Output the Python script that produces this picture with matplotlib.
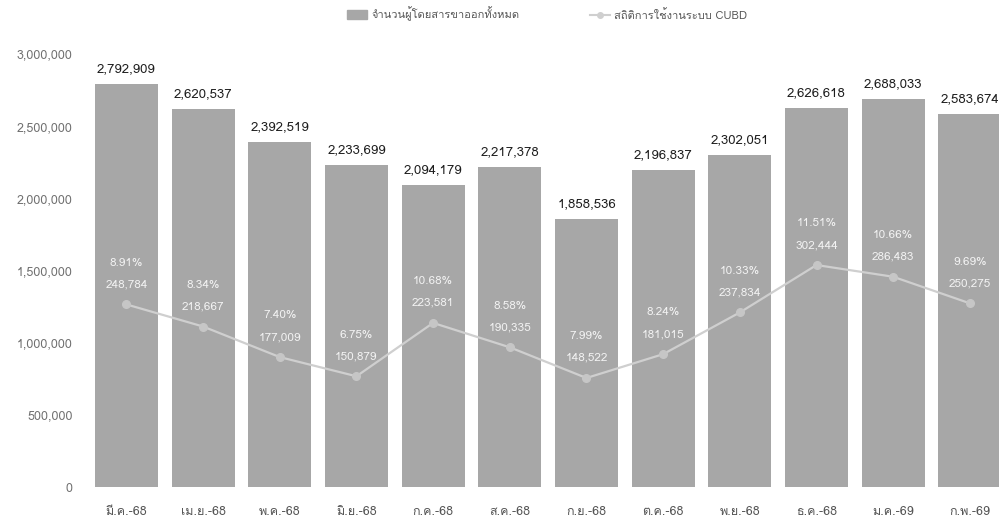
import matplotlib
matplotlib.use("Agg")
import matplotlib.pyplot as plt
from matplotlib import font_manager
from matplotlib.ft2font import FT2Font
from matplotlib.lines import Line2D
from matplotlib.patches import Patch

# Monthly figures
months = ["มี.ค.-68", "เม.ย.-68", "พ.ค.-68", "มิ.ย.-68", "ก.ค.-68", "ส.ค.-68",
          "ก.ย.-68", "ต.ค.-68", "พ.ย.-68", "ธ.ค.-68", "ม.ค.-69", "ก.พ.-69"]
departures = [2792909, 2620537, 2392519, 2233699, 2094179, 2217378,
              1858536, 2196837, 2302051, 2626618, 2688033, 2583674]
cubd_usage = [248784, 218667, 177009, 150879, 223581, 190335,
              148522, 181015, 237834, 302444, 286483, 250275]
yticks = [0, 500000, 1000000, 1500000, 2000000, 2500000, 3000000]

bar_name = "จำนวนผู้โดยสารขาออกทั้งหมด"
line_name = "สถิติการใช้งานระบบ CUBD"


# find an installed font that can draw Thai
def thai_fonts():
    found = []
    for f in font_manager.fontManager.ttflist:
        try:
            cmap = FT2Font(f.fname).get_charmap()
        except Exception:
            continue
        if 0x0E08 in cmap and f.name not in found:
            found.append(f.name)
    return found


families = thai_fonts()[:1] + ["DejaVu Sans"]
plt.rcParams["font.family"] = families

fig = plt.figure(figsize=(9.99, 5.21), dpi=100)
ax = fig.add_axes([85 / 999, 34 / 521, 914 / 999, 433 / 521])

x = list(range(len(months)))
ax.bar(x, departures, width=0.82, color="#a7a7a7", zorder=1)
ax.set_ylim(0, 3000000)
ax.set_xlim(-0.54, 11.38)
ax.set_yticks(yticks)
ax.set_yticklabels([f"{v:,}" for v in yticks], color="#707070", fontsize=9)
ax.set_xticks(x)
ax.set_xticklabels(months, color="#555555", fontsize=9)
ax.tick_params(length=0, axis="y", pad=9)
ax.tick_params(length=0, axis="x", pad=14)
for s in ax.spines.values():
    s.set_visible(False)

for xi, v in zip(x, departures):
    ax.annotate(f"{v:,}", (xi, v), xytext=(0, 10.5), textcoords="offset points",
                ha="center", va="center", fontsize=9.5, color="#1e1e1e")

# usage line on a hidden second scale
ax2 = ax.twinx()
ax2.set_ylim(0, 590000)
ax2.axis("off")
ax2.plot(x, cubd_usage, color="#cfcfcf", lw=1.6, marker="o", ms=5.5,
         markerfacecolor="#c6c6c6", markeredgecolor="#c6c6c6", zorder=3)
for xi, u, d in zip(x, cubd_usage, departures):
    ax2.annotate(f"{u:,}", (xi, u), xytext=(0, 14.5), textcoords="offset points",
                 ha="center", va="center", fontsize=8.5, color="#f2f2f2")
    ax2.annotate(f"{u / d * 100:.2f}%", (xi, u), xytext=(0, 30),
                 textcoords="offset points", ha="center", va="center",
                 fontsize=8.5, color="#f2f2f2")

handles = [Patch(color="#a7a7a7"),
           Line2D([], [], color="#cfcfcf", lw=1.5, marker="o", ms=4)]
fig.legend(handles, [bar_name, line_name], loc="center", ncol=2,
           bbox_to_anchor=(547 / 999, 1 - 14 / 521), frameon=False,
           fontsize=8, labelcolor="#555555", handlelength=1.8,
           handleheight=0.8, handletextpad=0.4, columnspacing=6.3)

fig.savefig("out.png", dpi=100, facecolor="white")
